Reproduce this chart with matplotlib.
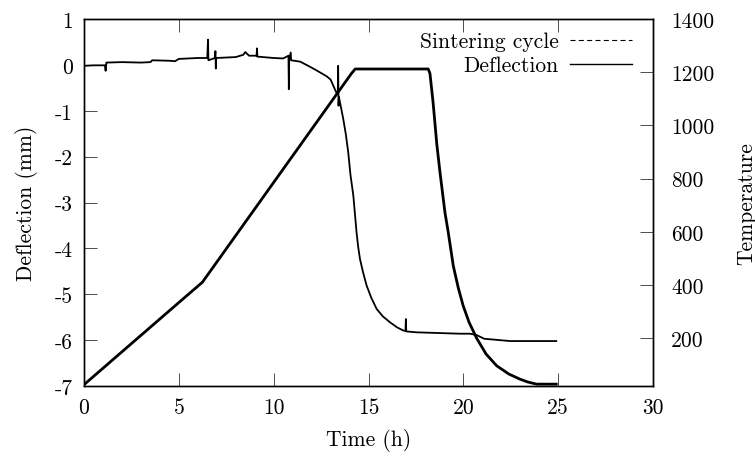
import matplotlib
matplotlib.use("Agg")
import matplotlib.pyplot as plt
from matplotlib.lines import Line2D

plt.rcParams['font.family'] = 'serif'
plt.rcParams['font.serif'] = ['cmr10']
plt.rcParams['axes.unicode_minus'] = False
plt.rcParams['axes.formatter.use_mathtext'] = True

# deflection (left axis, mm)
defl_time = [0.0, 0.5, 1.1, 1.14, 1.18, 2.0, 3.0, 3.5, 3.6, 4.5, 4.8, 5.0, 6.0, 6.5,
             6.54, 6.56, 6.9, 6.93, 6.95, 6.97, 8.0, 8.4, 8.5, 8.7, 9.1, 9.12, 9.14,
             10.0, 10.5, 10.78, 10.8, 10.82, 10.9, 10.92, 11.4, 12.0, 12.3, 12.8, 13.0,
             13.14, 13.3, 13.38, 13.4, 13.42, 13.44, 13.67, 13.8, 13.93, 14.05, 14.2,
             14.37, 14.45, 14.55, 14.7, 14.9, 15.15, 15.43, 15.75, 16.13, 16.5, 16.83,
             16.95, 16.97, 16.99, 17.54, 19.82, 20.35, 20.7, 21.1, 22.46, 24.9]
defl_mm = [-0.02, -0.01, -0.01, -0.13, 0.05, 0.06, 0.05, 0.06, 0.10, 0.09, 0.08, 0.13, 0.15, 0.15,
           0.55, 0.10, 0.15, 0.30, -0.08, 0.15, 0.17, 0.22, 0.28, 0.20, 0.20, 0.36, 0.18,
           0.15, 0.14, 0.20, -0.53, 0.12, 0.27, 0.10, 0.07, -0.06, -0.13, -0.25, -0.32,
           -0.45, -0.60, -0.64, -0.02, -0.89, -0.70, -1.18, -1.50, -1.90, -2.40, -2.85,
           -3.65, -3.95, -4.23, -4.50, -4.81, -5.08, -5.32, -5.48, -5.61, -5.72, -5.79,
           -5.80, -5.54, -5.81, -5.83, -5.86, -5.86, -5.89, -5.97, -6.02, -6.02]

# sintering cycle (right axis, temperature)
temp_time = [0.0, 5.1, 6.24, 14.1, 14.3, 18.15, 18.24, 18.4, 18.5, 18.6, 18.77, 19.03,
             19.2, 19.47, 19.73, 19.99, 20.3, 20.7, 21.2, 21.76, 22.4, 22.98, 23.4,
             23.86, 24.9]
temp_c = [25, 340, 410, 1195, 1212, 1212, 1195, 1090, 1011, 930, 823, 673,
          600, 472, 390, 322, 260, 200, 140, 96, 65, 46, 35,
          27, 27]

x_ticks = [0, 5, 10, 15, 20, 25, 30]
y_ticks = [-7, -6, -5, -4, -3, -2, -1, 0, 1]
y2_ticks = [200, 400, 600, 800, 1000, 1200, 1400]

fs = 15.5

fig = plt.figure(figsize=(7.55, 4.6), dpi=100)
ax = fig.add_axes([84 / 755, 1 - 387 / 460, (653 - 84) / 755, (387 - 20) / 460])
ax2 = ax.twinx()

ax.plot(defl_time, defl_mm, color='black', lw=1.3)
ax2.plot(temp_time, temp_c, color='black', lw=2.0)

ax.set_xlim(0, 30)
ax.set_ylim(-7, 1)
ax2.set_ylim(20, 1400)
ax.set_xticks(x_ticks)
ax.set_xticklabels([str(v) for v in x_ticks])
ax.set_yticks(y_ticks)
ax.set_yticklabels([str(v) for v in y_ticks])
ax2.set_yticks(y2_ticks)
ax2.set_yticklabels([str(v) for v in y2_ticks])

ax.tick_params(axis='x', direction='in', top=True, length=9.5, width=0.7,
               color='0.3', labelsize=fs, pad=8)
ax.tick_params(axis='y', direction='in', right=False, length=9.5, width=0.7,
               color='0.3', labelsize=fs, pad=8)
ax2.tick_params(axis='y', direction='in', length=9.5, width=0.7,
                color='0.3', labelsize=fs, pad=13)

for a in (ax, ax2):
    for s in a.spines.values():
        s.set_linewidth(1.0)

ax.set_xlabel('Time (h)', fontsize=fs, labelpad=8)
ax.set_ylabel('Deflection (mm)', fontsize=fs, labelpad=12)
ax2.set_ylabel('Temperature', fontsize=fs, labelpad=16)

handles = [Line2D([], [], color='black', lw=0.8, dashes=(4.5, 3)),
           Line2D([], [], color='black', lw=1.0)]
ax.legend(handles, ['Sintering cycle', 'Deflection'], loc='upper right',
          bbox_to_anchor=((632 - 84) / 569, 0.965), frameon=False, markerfirst=False,
          fontsize=fs, handlelength=2.9, handletextpad=0.5, labelspacing=0.2,
          borderpad=0, borderaxespad=0)

fig.savefig('out.png', dpi=100)
